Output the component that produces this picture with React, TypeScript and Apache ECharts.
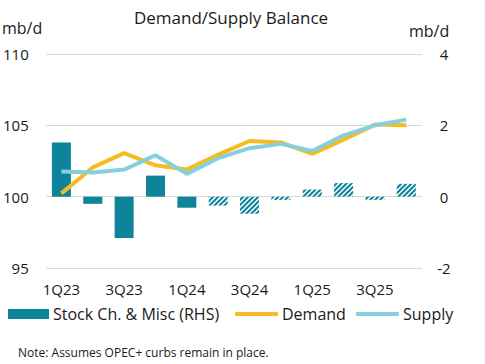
import React, { useEffect, useRef } from "react";
import * as echarts from "echarts";

const categories = ["1Q23", "2Q23", "3Q23", "4Q23", "1Q24", "2Q24", "3Q24", "4Q24", "1Q25", "2Q25", "3Q25", "4Q25"];
const stockChange = [1.52, -0.2, -1.16, 0.59, -0.31, -0.25, -0.48, -0.09, 0.2, 0.38, -0.09, 0.36];
const forecastFrom = 5; // index where hatched (forecast) bars start
const demand = [100.23, 102.05, 103.05, 102.2, 101.9, 102.95, 103.9, 103.8, 103.0, 104.0, 105.05, 105.0];
const supply = [101.76, 101.7, 101.9, 102.9, 101.6, 102.7, 103.4, 103.7, 103.2, 104.3, 105.0, 105.4];
const leftTicks = { min: 95, max: 110, interval: 5 };
const rightTicks = { min: -2, max: 4, interval: 2 };

const TEAL = "#0e849a";
const YELLOW = "#f6bb1e";
const LIGHT = "#86cfdc";
const FONT = "Open Sans";

function makeHatch(): HTMLCanvasElement {
  const s = 5;
  const c = document.createElement("canvas");
  c.width = s;
  c.height = s;
  const ctx = c.getContext("2d")!;
  ctx.fillStyle = "#ffffff";
  ctx.fillRect(0, 0, s, s);
  ctx.strokeStyle = TEAL;
  ctx.lineWidth = 2;
  for (const k of [-s, 0, s]) {
    ctx.beginPath();
    ctx.moveTo(k - 1, s + 1);
    ctx.lineTo(k + s + 1, -1);
    ctx.stroke();
  }
  return c;
}

export default function App() {
  const ref = useRef<HTMLDivElement>(null);
  useEffect(() => {
    if (!ref.current) return;
    const chart = echarts.init(ref.current, undefined, { renderer: "svg" });
    const hatch = makeHatch();
    const barData = stockChange.map((v, i) =>
      i < forecastFrom
        ? { value: v, itemStyle: { color: TEAL } }
        : { value: v, itemStyle: { color: { image: hatch, repeat: "repeat" } } }
    );
    const legendText = { fontFamily: FONT, fontSize: 16, color: "#1a1a1a", padding: [0, 0, 0, -1] };
    chart.setOption({
      animation: false,
      textStyle: { fontFamily: FONT },
      title: {
        text: "Demand/Supply Balance",
        left: 226,
        textAlign: "center",
        top: 4,
        textStyle: { fontFamily: FONT, fontSize: 17, fontWeight: "normal", color: "#1a1a1a" },
      },
      graphic: [
        { type: "text", left: 2, top: 20, style: { text: "mb/d", fontFamily: FONT, fontSize: 16, fill: "#1a1a1a" } },
        { type: "text", left: 409, top: 23, style: { text: "mb/d", fontFamily: FONT, fontSize: 16, fill: "#1a1a1a" } },
        {
          type: "text",
          left: 18,
          top: 346,
          style: { text: "Note: Assumes OPEC+ curbs remain in place.", fontFamily: FONT, fontSize: 12, fill: "#1a1a1a" },
        },
      ],
      legend: [
        {
          data: [{ name: "Stock Ch. & Misc (RHS)", icon: "rect", itemStyle: { color: TEAL } }],
          left: 8,
          top: 306,
          padding: 0,
          itemWidth: 41,
          itemHeight: 10,
          textStyle: legendText,
        },
        {
          data: [{ name: "Demand", icon: "roundRect" }],
          left: 235,
          top: 306,
          padding: 0,
          itemWidth: 43,
          itemHeight: 4,
          textStyle: legendText,
        },
        {
          data: [{ name: "Supply", icon: "roundRect" }],
          left: 356,
          top: 306,
          padding: 0,
          itemWidth: 43,
          itemHeight: 4,
          textStyle: legendText,
        },
      ],
      grid: { left: 43, right: 63, top: 54, bottom: 96 },
      xAxis: {
        type: "category",
        data: categories,
        axisLine: { show: false },
        axisTick: { show: false },
        axisLabel: { interval: 1, margin: 13, fontFamily: FONT, fontSize: 15, color: "#1a1a1a" },
      },
      yAxis: [
        {
          type: "value",
          ...leftTicks,
          axisLine: { show: false },
          axisTick: { show: false },
          splitLine: { lineStyle: { color: "#d9d9d9", width: 1 } },
          axisLabel: { margin: 17, fontFamily: FONT, fontSize: 15, color: "#1a1a1a" },
        },
        {
          type: "value",
          ...rightTicks,
          position: "right",
          axisLine: { show: false },
          axisTick: { show: false },
          splitLine: { show: false },
          axisLabel: { margin: 22, align: "center", fontFamily: FONT, fontSize: 15, color: "#1a1a1a" },
        },
      ],
      series: [
        {
          name: "Stock Ch. & Misc (RHS)",
          type: "bar",
          yAxisIndex: 1,
          barWidth: 19,
          itemStyle: { color: TEAL },
          data: barData,
        },
        {
          name: "Demand",
          type: "line",
          yAxisIndex: 0,
          data: demand,
          symbol: "none",
          lineStyle: { color: YELLOW, width: 4 },
          itemStyle: { color: YELLOW },
        },
        {
          name: "Supply",
          type: "line",
          yAxisIndex: 0,
          data: supply,
          symbol: "none",
          lineStyle: { color: LIGHT, width: 4 },
          itemStyle: { color: LIGHT },
        },
      ],
    });
    return () => chart.dispose();
  }, []);
  return <div ref={ref} style={{ width: 485, height: 364, position: "absolute", left: 0, top: 0, background: "#fff" }} />;
}
